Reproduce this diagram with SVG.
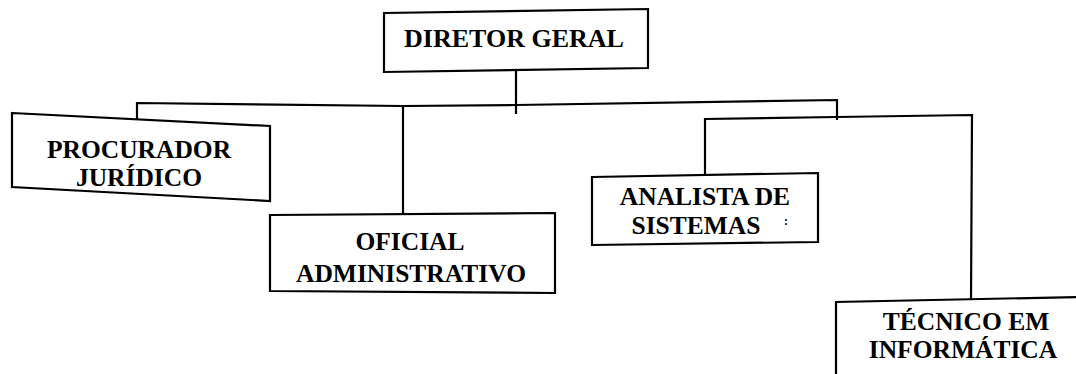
<svg xmlns="http://www.w3.org/2000/svg" width="1076" height="374" viewBox="0 0 1076 374">
<style>
.box{fill:#fff;stroke:#000;stroke-width:2.2;stroke-linejoin:miter}
.ln{fill:none;stroke:#000;stroke-width:2.2}
.t{font-family:"Liberation Serif","Times New Roman",serif;font-weight:bold;font-size:25.5px;fill:#000;text-anchor:middle}
</style>
<rect width="1076" height="374" fill="#fff"/>
<g id="connectors">
<line class="ln" x1="516" y1="58" x2="516" y2="114"/>
<polyline class="ln" points="137,122 137,103 403,106 516,105 837,100 837,120"/>
<line class="ln" x1="403" y1="106" x2="403" y2="215"/>
<polyline class="ln" points="705,177 705,119 837,117 972,115 971,302"/>
</g>
<g id="diretor">
<polygon class="box" points="384,13 648,9 648,68 384,72"/>
<text class="t" x="514" y="47" style="font-size:26px">DIRETOR GERAL</text>
</g>
<g id="procurador">
<polygon class="box" points="12,113 270,126 270,201 12,187"/>
<text class="t" x="139" y="158">PROCURADOR</text>
<text class="t" x="139" y="186">JURÍDICO</text>
</g>
<g id="oficial">
<polygon class="box" points="270,215 555,213 555,293 270,291"/>
<text class="t" x="410" y="250">OFICIAL</text>
<text class="t" x="411" y="282">ADMINISTRATIVO</text>
</g>
<g id="analista">
<polygon class="box" points="592,177 818,173 818,242 592,245"/>
<text class="t" x="705" y="205">ANALISTA DE</text>
<text class="t" x="696" y="234">SISTEMAS</text>
<text class="t" x="786" y="225" style="font-size:12px">:</text>
</g>
<g id="tecnico">
<polyline class="box" points="836,380 836,302 1080,297"/>
<text class="t" x="966" y="330">TÉCNICO EM</text>
<text class="t" x="963" y="358">INFORMÁTICA</text>
</g>
</svg>
